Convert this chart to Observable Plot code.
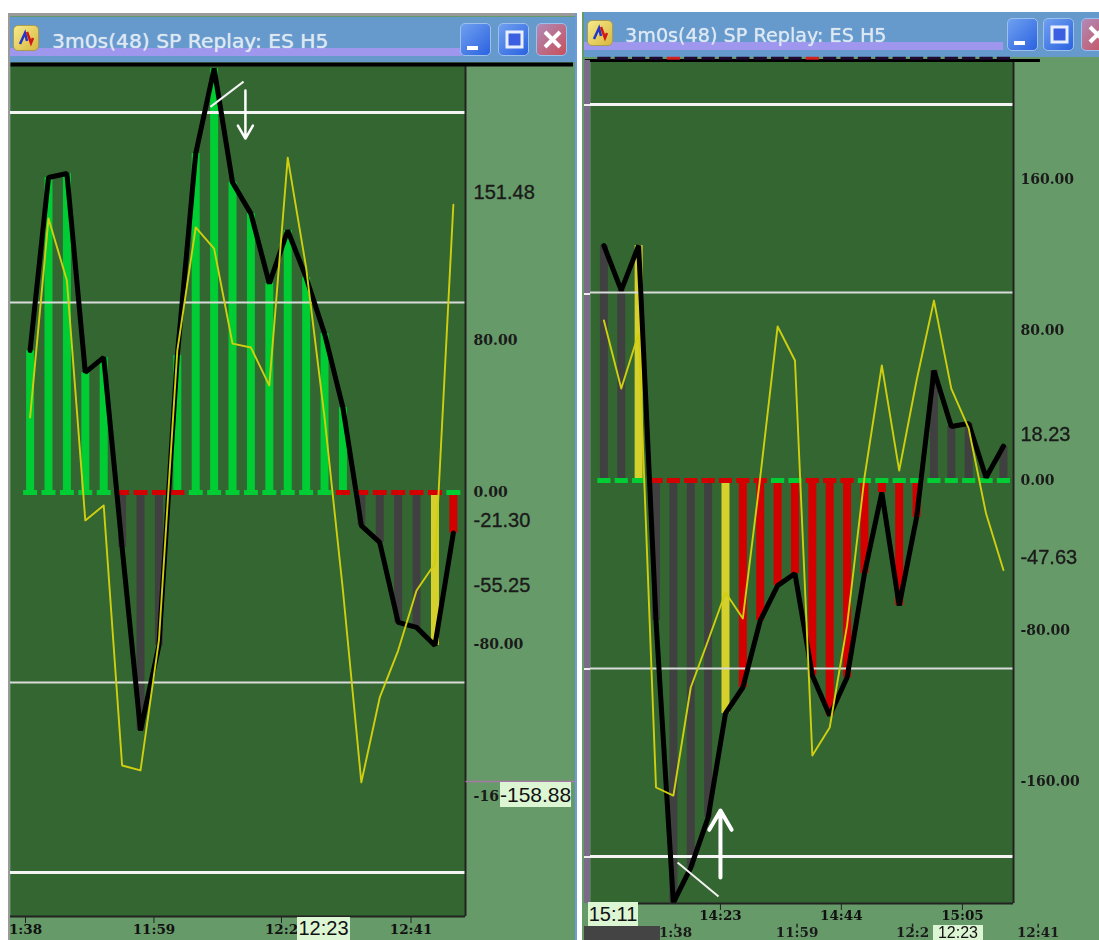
<!DOCTYPE html>
<html><head><meta charset="utf-8">
<script src="https://cdn.jsdelivr.net/npm/d3@7"></script>
<script src="https://cdn.jsdelivr.net/npm/@observablehq/plot@0.6"></script>
<style>
html,body{margin:0;padding:0;background:#fff;width:1099px;height:940px;overflow:hidden}
#page{position:absolute;left:0;top:0;width:1099px;height:940px;overflow:hidden;filter:blur(.55px)}
.abs{position:absolute;box-sizing:border-box}
svg{display:block}
</style></head><body><div id="page"></div>
<script>
// ---- left window series (index = bar number) ----
const leftBlack = [74.7,165.8,167.9,63.2,71.1,-28.9,-125.3,-80.5,72.1,178.4,223.2,163.2,146.8,110,137.9,113.2,83.7,44.7,-17.4,-26.3,-68.4,-71,-80.5,-21.3];
const leftYellow = [39.5,144.2,111.6,-14.7,-6.8,-143.7,-146.3,-77.9,74.7,139.5,128.4,78.4,76.3,56.3,176.3,118.4,39.5,-51.6,-152.6,-107.9,-83.2,-51.6,-37.4,151.48];
const leftBarKinds = "gggggkkkggggggggggkkkkyr".split("");
const leftZeroKinds = "gggggrrrrggggggggrrrrrrg".split("");
const leftScaleLabels = [["80.00",80],["0.00",0],["-80.00",-80],["-16",-160]];
const leftValueLabels = [["151.48",151.48],["-21.30",-21.3],["-55.25",-55.25]];
const leftTimeTicks = [-0.25,6.73,13.66,20.7];
const leftTimeLabels = ["1:38","11:59","12:2","12:41"];

// ---- right window series ----
const rightBlack = [125,101.1,125,-74.5,-224.5,-205.9,-179.3,-123.9,-110.1,-74.5,-55.9,-49.5,-103.7,-125,-104.8,-49.5,-6.4,-66.5,-19.7,58.5,28.7,30.3,1.6,18.23];
const rightYellow = [85.1,48.9,78.2,-163.3,-167.6,-110.1,-85.1,-59.6,-73.4,1.6,81.9,63.8,-146.3,-131.4,-77.1,1.6,61.2,5.3,53.2,95.7,48.9,27.7,-17.6,-47.63];
const rightBarKinds = "kkykkkkyrrrrrrrrrrrkkkkk".split("");
const rightZeroKinds = "gggrrrrrrrggrrrggggggggg".split("");
const rightScaleLabels = [["160.00",160],["80.00",80],["0.00",0],["-80.00",-80],["-160.00",-160]];
const rightValueLabels = [["18.23",18.23],["-47.63",-47.63]];
const rightTimeTicks = [6.71,13.67,20.64];
const rightTimeLabels = ["14:23","14:44","15:05"];
const rightGhostTicks = [4.12,11.12,17.77,25.0];
const rightGhostLabels = ["1:38","11:59","12:2","12:41"];

const levels = [200,100,-100,-200];
const kindColor = {g:"#00cc33",r:"#d40000",k:"#404040",y:"#d6d02c"};
const tickFont = {fontFamily:"DejaVu Serif",fontWeight:"bold",fill:"#1a1a1a"};

function chart({black,yellow,barKinds,zeroKinds,scaleLabels,valueLabels,timeTicks,timeLabels,
  xDomain,yDomain,width,height,marginLeft,marginRight,marginTop,marginBottom,labelX,bigX,tickPad,extra}) {
  const idx = d3.range(black.length);
  return Plot.plot({
    width,height,marginLeft,marginRight,marginTop,marginBottom,
    x:{domain:xDomain,axis:null},
    y:{domain:yDomain,axis:null},
    style:{background:"#669a68",color:"#111",overflow:"visible",fontFamily:"Liberation Sans"},
    marks:[
      Plot.frame({fill:"#346632",stroke:null}),
      Plot.ruleX(idx,{x:d=>d,y1:0,y2:d=>black[d],stroke:d=>kindColor[barKinds[d]],strokeWidth:8}),
      Plot.link(idx,{x1:d=>d-.38,x2:d=>d+.38,y1:0,y2:0,stroke:d=>kindColor[zeroKinds[d]],strokeWidth:5,strokeLinecap:"butt"}),
      Plot.ruleY(levels,{y:d=>d,stroke:d=>Math.abs(d)===200?"#f4f4f4":"#d8dcd8",strokeWidth:d=>Math.abs(d)===200?3:2}),
      Plot.line(idx,{x:d=>d,y:d=>black[d],stroke:"#000",strokeWidth:5,strokeLinejoin:"miter"}),
      Plot.line(idx,{x:d=>d,y:d=>yellow[d],stroke:"#cfcf10",strokeWidth:1.9}),
      Plot.ruleX([xDomain[1]],{stroke:"#222",strokeWidth:2}),
      Plot.ruleY([yDomain[0]],{stroke:"#222",strokeWidth:2}),
      Plot.text(scaleLabels,{x:labelX,y:d=>d[1],text:d=>d[0],textAnchor:"start",fontSize:14,...tickFont}),
      Plot.text(valueLabels,{x:bigX,y:d=>d[1],dy:-12,text:d=>d[0],textAnchor:"start",fontSize:20,fill:"#1a1a1a",stroke:"#1a1a1a",strokeWidth:.35}),
      Plot.axisX({ticks:timeTicks,tickFormat:d=>timeLabels[timeTicks.indexOf(d)],tickSize:7,tickPadding:tickPad,
        fontFamily:"DejaVu Serif",fontWeight:"bold",fontSize:13.5,stroke:"#222",label:null}),
      ...extra
    ]
  });
}

const page = document.getElementById("page");
function box(x,y,w,h,css,html){
  const d=document.createElement("div");d.className="abs";
  d.style.cssText=`left:${x}px;top:${y}px;width:${w}px;height:${h}px;`+(css||"");
  if(html)d.innerHTML=html;page.appendChild(d);return d;
}
function place(el,x,y){el.style.position="absolute";el.style.left=x+"px";el.style.top=y+"px";page.appendChild(el);}
function titleBar(x,y,w,h,stripY,stripW,tx,fs,btns){
  box(x,y,w,h,"background:#6699cc");
  box(x,stripY,stripW,8,"background:#9f96ee");
  box(x+3,y+8,26,26,"background:linear-gradient(135deg,#f6ea8a,#d8b840);border-radius:5px;border:1px solid #a99b50",
   `<svg width="24" height="24"><path d="M6 18L11 7L13 15" stroke="#2236c8" stroke-width="2.5" fill="none"/><path d="M13 6L17 17L19 12" stroke="#d01818" stroke-width="2.5" fill="none"/></svg>`);
  const t=box(tx,y+11,300,26,`font:${fs}px 'DejaVu Sans';color:#dce8f4;white-space:nowrap;line-height:26px;text-shadow:0 0 1px #dce8f4`);
  t.textContent="3m0s(48) SP Replay: ES H5";
  btns.forEach((bx,i)=>{
    const bg=i===2?"linear-gradient(135deg,#b08ab8,#c8505a)":"linear-gradient(135deg,#6fa0f0,#2b62e0)";
    const icon=i===0?`<path d="M6 24h11" stroke="#fff" stroke-width="4"/>`:
      i===1?`<rect x="8" y="8" width="15" height="15" fill="#3a5fe0" stroke="#e8f0ff" stroke-width="3"/>`:
      `<path d="M8 8L23 23M23 8L8 23" stroke="#fff" stroke-width="4"/>`;
    box(bx,y+6,31,33,`background:${bg};border-radius:5px;border:1px solid #9cc0ee`,`<svg width="30" height="32">${icon}</svg>`);
  });
}

// left window
box(8,13,567,927,"background:#9a9a9a");
box(10,16,565,924,"background:#669a68");
titleBar(10,17,565,46,48,452,52,20.3,[460,498,536]);
const leftChart = chart({black:leftBlack,yellow:leftYellow,barKinds:leftBarKinds,zeroKinds:leftZeroKinds,
  scaleLabels:leftScaleLabels,valueLabels:leftValueLabels,timeTicks:leftTimeTicks,timeLabels:leftTimeLabels,
  xDomain:[-1.065,23.66],yDomain:[-223.2,225.3],width:565,height:878,marginLeft:0,marginRight:110,marginTop:2,marginBottom:24,
  labelX:24.1,bigX:24.1,tickPad:1,
  extra:[
    Plot.link([225.3],{x1:-1.065,x2:29.5,y1:d=>d,y2:d=>d,stroke:"#000",strokeWidth:4}),
    Plot.link([-152.1],{x1:23.66,x2:29.7,y1:d=>d,y2:d=>d,stroke:"#a878a8",strokeWidth:1.5}),
    Plot.link([[9.8,203,11.6,216.3]],{x1:d=>d[0],y1:d=>d[1],x2:d=>d[2],y2:d=>d[3],stroke:"#f2f2f2",strokeWidth:2}),
    Plot.arrow([[11.7,211.6,186.3]],{x1:d=>d[0],y1:d=>d[1],x2:d=>d[0],y2:d=>d[2],bend:0,stroke:"#fff",strokeWidth:2.5,headLength:9,insetEnd:0})
  ]});
place(leftChart,10,62);
box(500,782,71,25,"background:#dcf6d4;font:21px 'Liberation Sans';color:#111;text-align:center;line-height:25px").textContent="-158.88";
box(297,917,53,23,"background:#dcf6d4;font:20px 'Liberation Sans';color:#111;text-align:center;line-height:23px").textContent="12:23";

// divider + right window
box(575,0,2,940,"background:#6a9bdd");
box(575,0,9,13,"background:#fff");
box(582,12,517,928,"background:#669a68");
titleBar(584,12,515,45,42,419,625,19.2,[1007,1043,1081]);
const rightChart = chart({black:rightBlack,yellow:rightYellow,barKinds:rightBarKinds,zeroKinds:rightZeroKinds,
  scaleLabels:rightScaleLabels,valueLabels:rightValueLabels,timeTicks:rightTimeTicks,timeLabels:rightTimeLabels,
  xDomain:[-0.771,23.58],yDomain:[-225,223.4],width:515,height:882,marginLeft:6,marginRight:86,marginTop:2,marginBottom:37,
  labelX:23.98,bigX:23.98,tickPad:0,
  extra:[
    Plot.link([223.4],{x1:-1.1,x2:25.1,y1:d=>d,y2:d=>d,stroke:"#000",strokeWidth:3}),
    Plot.link(d3.range(24),{x1:d=>d-.38,x2:d=>d+.38,y1:224.6,y2:224.6,stroke:d=>(d===4||d===12)?"#d42020":"#1f0a30",strokeWidth:3,strokeLinecap:"butt"}),
    Plot.text(rightGhostLabels,{x:(d,i)=>rightGhostTicks[i],y:-240.6,text:d=>d,fontSize:13.5,...tickFont}),
    Plot.ruleX(rightGhostTicks,{x:d=>d,y1:-236,y2:-238,stroke:"#222",strokeWidth:1.5}),
    Plot.link([[4.24,-203.2,6.6,-221.3]],{x1:d=>d[0],y1:d=>d[1],x2:d=>d[2],y2:d=>d[3],stroke:"#f2f2f2",strokeWidth:2}),
    Plot.arrow([[6.71,-211.2,-175.5]],{x1:d=>d[0],y1:d=>d[1],x2:d=>d[0],y2:d=>d[2],bend:0,stroke:"#fff",strokeWidth:4,headLength:9,insetEnd:0})
  ]});
place(rightChart,584,58);
box(584,60,6,843,"background:#7a6c88");
[105,294,669,857].forEach(y=>box(584,y-1,6,2,"background:#eee"));
box(584,926,76,14,"background:#444");
box(588,902,50,24,"background:#dcf6d4;font:20px 'Liberation Sans';color:#111;text-align:center;line-height:24px").textContent="15:11";
box(933,925,50,15,"background:#dcf6d4;font:16px 'Liberation Sans';color:#111;text-align:center;line-height:15px").textContent="12:23";
box(577,0,5,940,"background:#fff");
</script></body></html>
